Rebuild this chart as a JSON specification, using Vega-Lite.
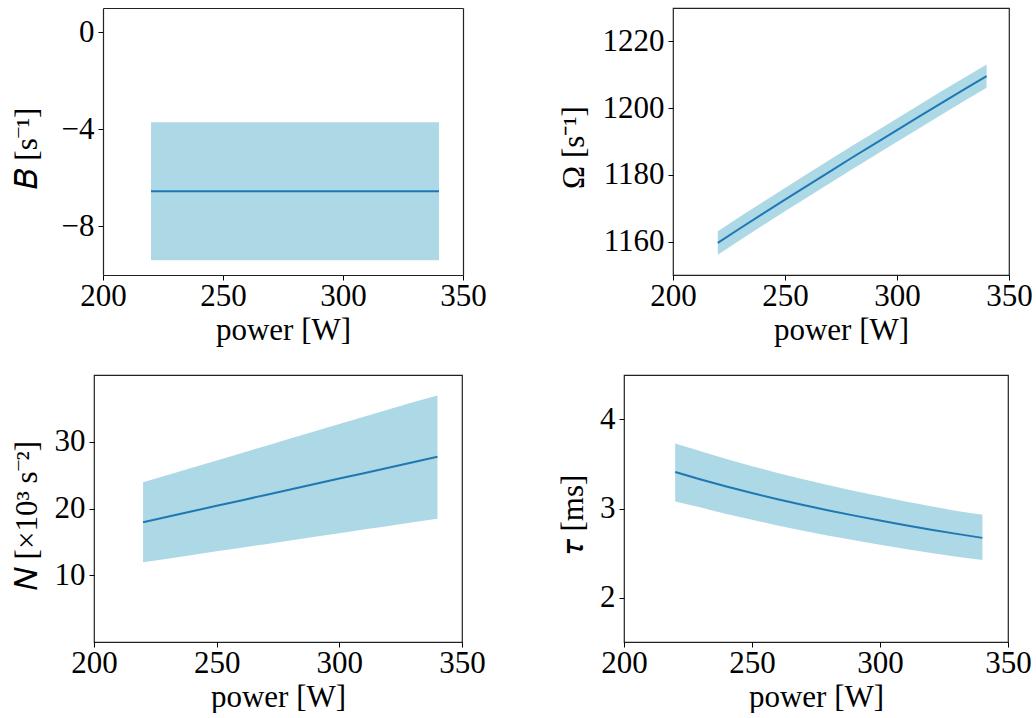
{
  "$schema": "https://vega.github.io/schema/vega-lite/v6.json",
  "background": "white",
  "padding": {"left": 10, "top": 7, "right": 0, "bottom": 0},
  "config": {
    "font": "Liberation Serif",
    "view": {"stroke": "#222", "strokeWidth": 1.2},
    "axis": {
      "grid": false,
      "domain": false,
      "ticks": true,
      "tickColor": "#000",
      "tickSize": 5,
      "tickWidth": 1,
      "labelFont": "Liberation Serif",
      "labelFontSize": 31,
      "labelColor": "#000",
      "labelPadding": 1,
      "labelFlush": false,
      "labelOverlap": false,
      "titleFont": "Liberation Serif",
      "titleFontSize": 31,
      "titleFontWeight": "normal",
      "titleColor": "#000",
      "domainColor": "#222",
      "domainWidth": 1.2
    },
    "axisY": {"labelPadding": 4}
  },
  "datasets": {
    "B": [
      {"power": 220, "value": -6.55, "lower": -9.39, "upper": -3.71},
      {"power": 250, "value": -6.55, "lower": -9.39, "upper": -3.71},
      {"power": 280, "value": -6.55, "lower": -9.39, "upper": -3.71},
      {"power": 310, "value": -6.55, "lower": -9.39, "upper": -3.71},
      {"power": 340, "value": -6.55, "lower": -9.39, "upper": -3.71}
    ],
    "Omega": [
      {"power": 220, "value": 1159.6, "lower": 1156.1, "upper": 1163.1},
      {"power": 230, "value": 1164.0, "lower": 1160.5, "upper": 1167.5},
      {"power": 240, "value": 1168.3, "lower": 1164.8, "upper": 1171.8},
      {"power": 250, "value": 1172.6, "lower": 1169.1, "upper": 1176.1},
      {"power": 260, "value": 1176.8, "lower": 1173.3, "upper": 1180.3},
      {"power": 270, "value": 1181.0, "lower": 1177.5, "upper": 1184.5},
      {"power": 280, "value": 1185.2, "lower": 1181.7, "upper": 1188.7},
      {"power": 290, "value": 1189.3, "lower": 1185.8, "upper": 1192.8},
      {"power": 300, "value": 1193.4, "lower": 1189.9, "upper": 1196.9},
      {"power": 310, "value": 1197.5, "lower": 1194.0, "upper": 1201.0},
      {"power": 320, "value": 1201.6, "lower": 1198.1, "upper": 1205.1},
      {"power": 330, "value": 1205.6, "lower": 1202.1, "upper": 1209.1},
      {"power": 340, "value": 1209.6, "lower": 1206.1, "upper": 1213.1}
    ],
    "N": [
      {"power": 220, "value": 17.95, "lower": 11.95, "upper": 23.94},
      {"power": 230, "value": 18.77, "lower": 12.49, "upper": 25.03},
      {"power": 240, "value": 19.58, "lower": 13.03, "upper": 26.11},
      {"power": 250, "value": 20.40, "lower": 13.58, "upper": 27.20},
      {"power": 260, "value": 21.21, "lower": 14.12, "upper": 28.29},
      {"power": 270, "value": 22.03, "lower": 14.66, "upper": 29.38},
      {"power": 280, "value": 22.85, "lower": 15.21, "upper": 30.47},
      {"power": 290, "value": 23.66, "lower": 15.75, "upper": 31.56},
      {"power": 300, "value": 24.48, "lower": 16.29, "upper": 32.65},
      {"power": 310, "value": 25.29, "lower": 16.84, "upper": 33.73},
      {"power": 320, "value": 26.11, "lower": 17.38, "upper": 34.82},
      {"power": 330, "value": 26.93, "lower": 17.93, "upper": 35.91},
      {"power": 340, "value": 27.74, "lower": 18.47, "upper": 36.93}
    ],
    "tau": [
      {"power": 220, "value": 3.410, "lower": 3.080, "upper": 3.730},
      {"power": 230, "value": 3.326, "lower": 3.010, "upper": 3.642},
      {"power": 240, "value": 3.247, "lower": 2.939, "upper": 3.555},
      {"power": 250, "value": 3.174, "lower": 2.873, "upper": 3.476},
      {"power": 260, "value": 3.104, "lower": 2.809, "upper": 3.399},
      {"power": 270, "value": 3.039, "lower": 2.750, "upper": 3.328},
      {"power": 280, "value": 2.978, "lower": 2.695, "upper": 3.261},
      {"power": 290, "value": 2.920, "lower": 2.643, "upper": 3.197},
      {"power": 300, "value": 2.865, "lower": 2.593, "upper": 3.137},
      {"power": 310, "value": 2.812, "lower": 2.545, "upper": 3.079},
      {"power": 320, "value": 2.762, "lower": 2.500, "upper": 3.024},
      {"power": 330, "value": 2.715, "lower": 2.457, "upper": 2.973},
      {"power": 340, "value": 2.670, "lower": 2.420, "upper": 2.930}
    ]
  },
  "spacing": 28,
  "vconcat": [
    {
      "bounds": "flush",
      "spacing": 210,
      "hconcat": [
        {
          "width": 369,
          "height": 267,
          "data": {"name": "B"},
          "view": {"stroke": null},
          "resolve": {"axis": {"x": "independent", "y": "independent"}},
          "layer": [
            {
              "mark": {"type": "area", "color": "#add8e6", "opacity": 1},
              "encoding": {
                "x": {"field": "power", "type": "quantitative", "scale": {"domain": [200, 350], "range": [9, 369], "nice": false}, "axis": {"values": [200, 250, 300, 350], "title": "power [W]", "domain": true}},
                "y": {"field": "lower", "type": "quantitative", "scale": {"domain": [-10, 1], "nice": false, "zero": false}, "axis": {"values": [-8, -4, 0], "format": "d", "title": "𝐵 [s⁻¹]", "titleX": -60, "titleY": 140, "offset": -9, "domain": true}},
                "y2": {"field": "upper"}
              }
            },
            {
              "mark": {"type": "line", "color": "#1f77b4", "strokeWidth": 2},
              "encoding": {
                "x": {"field": "power", "type": "quantitative", "axis": {"orient": "top", "domain": true, "ticks": false, "labels": false, "title": null}},
                "y": {"field": "value", "type": "quantitative", "axis": {"orient": "right", "domain": true, "ticks": false, "labels": false, "title": null}}
              }
            }
          ]
        },
        {
          "width": 336,
          "height": 267,
          "data": {"name": "Omega"},
          "layer": [
            {
              "mark": {"type": "area", "color": "#add8e6", "opacity": 1},
              "encoding": {
                "x": {"field": "power", "type": "quantitative", "scale": {"domain": [200, 350], "nice": false}, "axis": {"values": [200, 250, 300, 350], "title": "power [W]"}},
                "y": {"field": "lower", "type": "quantitative", "scale": {"domain": [1150, 1230], "nice": false, "zero": false}, "axis": {"values": [1160, 1180, 1200, 1220], "format": "d", "title": "Ω [s⁻¹]", "titleX": -83, "titleY": 139}},
                "y2": {"field": "upper"}
              }
            },
            {
              "mark": {"type": "line", "color": "#1f77b4", "strokeWidth": 2},
              "encoding": {
                "x": {"field": "power", "type": "quantitative"},
                "y": {"field": "value", "type": "quantitative"}
              }
            }
          ]
        }
      ]
    },
    {
      "bounds": "flush",
      "spacing": 162,
      "hconcat": [
        {
          "width": 368,
          "height": 267,
          "data": {"name": "N"},
          "layer": [
            {
              "mark": {"type": "area", "color": "#add8e6", "opacity": 1},
              "encoding": {
                "x": {"field": "power", "type": "quantitative", "scale": {"domain": [200, 350], "nice": false}, "axis": {"values": [200, 250, 300, 350], "title": "power [W]"}},
                "y": {"field": "lower", "type": "quantitative", "scale": {"domain": [0, 40], "nice": false, "zero": false}, "axis": {"values": [10, 20, 30], "format": "d", "title": "𝑁 [×10³ s⁻²]", "titleX": -51, "titleY": 140}},
                "y2": {"field": "upper"}
              }
            },
            {
              "mark": {"type": "line", "color": "#1f77b4", "strokeWidth": 2},
              "encoding": {
                "x": {"field": "power", "type": "quantitative"},
                "y": {"field": "value", "type": "quantitative"}
              }
            }
          ]
        },
        {
          "width": 384,
          "height": 267,
          "data": {"name": "tau"},
          "layer": [
            {
              "mark": {"type": "area", "color": "#add8e6", "opacity": 1},
              "encoding": {
                "x": {"field": "power", "type": "quantitative", "scale": {"domain": [200, 350], "nice": false}, "axis": {"values": [200, 250, 300, 350], "title": "power [W]"}},
                "y": {"field": "lower", "type": "quantitative", "scale": {"domain": [1.5, 4.5], "nice": false, "zero": false}, "axis": {"values": [2, 3, 4], "format": "d", "title": "𝜏 [ms]", "titleX": -35, "titleY": 139}},
                "y2": {"field": "upper"}
              }
            },
            {
              "mark": {"type": "line", "color": "#1f77b4", "strokeWidth": 2},
              "encoding": {
                "x": {"field": "power", "type": "quantitative"},
                "y": {"field": "value", "type": "quantitative"}
              }
            }
          ]
        }
      ]
    }
  ]
}
